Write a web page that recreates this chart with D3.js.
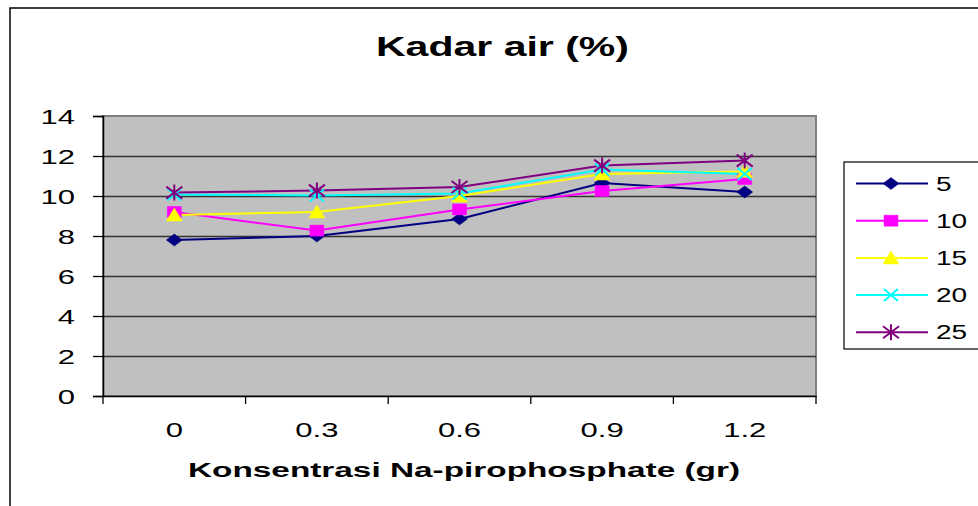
<!DOCTYPE html>
<html>
<head>
<meta charset="utf-8">
<script src="https://cdn.jsdelivr.net/npm/d3@7"></script>
<style>
  body { margin: 0; background: #fff; }
  text { font-family: Arial, "Liberation Sans", sans-serif; }
</style>
</head>
<body>
<div id="graphic"></div>
<script>
// data
const categories = ["0", "0.3", "0.6", "0.9", "1.2"];
const seriesNames = ["5", "10", "15", "20", "25"];
const s5  = [7.8, 8.0, 8.85, 10.65, 10.2];
const s10 = [9.2, 8.27, 9.33, 10.25, 10.85];
const s15 = [9.05, 9.2, 10.0, 11.1, 11.23];
const s20 = [10.08, 10.03, 10.13, 11.33, 11.1];
const s25 = [10.17, 10.27, 10.45, 11.52, 11.77];
const yTicks = [0, 2, 4, 6, 8, 10, 12, 14];

const colors = ["#000080", "#ff00ff", "#ffff00", "#00ffff", "#800080"];
const markers = ["diamond", "square", "triangle", "cross", "star"];
const values = [s5, s10, s15, s20, s25];

const width = 978;
const height = 506;
const plot = { left: 103, right: 816, top: 116, bottom: 396 };

const svg = d3.select("#graphic").append("svg")
  .attr("width", width)
  .attr("height", height)
  .style("display", "block");

// outer chart frame
svg.append("rect")
  .attr("x", 10).attr("y", 8)
  .attr("width", 1000).attr("height", 600)
  .attr("fill", "#fff")
  .attr("stroke", "#000")
  .attr("stroke-width", 1.5);

const x = d3.scaleBand()
  .domain(categories)
  .range([plot.left, plot.right])
  .padding(0);

const y = d3.scaleLinear()
  .domain([0, 14])
  .range([plot.bottom, plot.top]);

// plot background
svg.append("rect")
  .attr("x", plot.left).attr("y", plot.top)
  .attr("width", plot.right - plot.left)
  .attr("height", plot.bottom - plot.top)
  .attr("fill", "#c0c0c0")
  .attr("stroke", "#808080")
  .attr("stroke-width", 2);

// gridlines
const grid = svg.append("g")
  .attr("transform", `translate(${plot.left},0)`)
  .call(d3.axisLeft(y).tickValues(yTicks.slice(1, -1)).tickSize(-(plot.right - plot.left)).tickFormat(""));
grid.select(".domain").remove();
grid.selectAll("line").attr("stroke", "#333").attr("stroke-width", 1.3);

// y axis
const gy = svg.append("g")
  .attr("transform", `translate(${plot.left},0)`)
  .call(d3.axisLeft(y).tickValues(yTicks).tickSize(10).tickPadding(0));
gy.select(".domain").attr("stroke", "#000").attr("stroke-width", 1.5);
gy.selectAll("line").attr("stroke", "#000").attr("stroke-width", 1.3);
gy.selectAll("text")
  .attr("x", -28)
  .attr("dy", "0.35em")
  .attr("font-size", 20)
  .attr("fill", "#000")
  .attr("text-anchor", "end");

// x axis (labels centred in bands, ticks on band edges)
const gx = svg.append("g")
  .attr("transform", `translate(0,${plot.bottom})`)
  .call(d3.axisBottom(x).tickSize(0).tickPadding(0));
gx.select(".domain").attr("stroke", "#000").attr("stroke-width", 1.5);
gx.selectAll("text")
  .attr("y", 41)
  .attr("dy", 0)
  .attr("font-size", 20)
  .attr("fill", "#000");

const edges = categories.map(c => x(c)).concat([x.range()[1]]);
gx.selectAll("line.edge")
  .data(edges)
  .join("line")
  .attr("class", "edge")
  .attr("x1", d => d).attr("x2", d => d)
  .attr("y1", 0).attr("y2", 8)
  .attr("stroke", "#000")
  .attr("stroke-width", 1.3);

// stretch tick labels horizontally like the original
svg.selectAll(".tick text").each(function () {
  const w = this.getComputedTextLength();
  d3.select(this).attr("textLength", w * 1.55).attr("lengthAdjust", "spacingAndGlyphs");
});

// marker shapes
function markerPath(type) {
  switch (type) {
    case "diamond": return "M-8,0L0,-6L8,0L0,6Z";
    case "square": return "M-7,-5.5H7V5.5H-7Z";
    case "triangle": return "M0,-7L8,6H-8Z";
    case "cross": return "M-7,-6L7,6M-7,6L7,-6";
    case "star": return "M-8,-6L8,6M-8,6L8,-6M0,-8V8";
  }
}
function drawMarker(g, type, color) {
  const filled = type !== "cross" && type !== "star";
  g.append("path")
    .attr("d", markerPath(type))
    .attr("fill", filled ? color : "none")
    .attr("stroke", color)
    .attr("stroke-width", filled ? 0.5 : 2);
}

const line = d3.line()
  .x((d, i) => x(categories[i]) + x.bandwidth() / 2)
  .y(d => y(d));

values.forEach((vals, si) => {
  svg.append("path")
    .datum(vals)
    .attr("fill", "none")
    .attr("stroke", colors[si])
    .attr("stroke-width", 2)
    .attr("d", line);
});
values.forEach((vals, si) => {
  vals.forEach((v, i) => {
    const m = svg.append("g")
      .attr("transform", `translate(${x(categories[i]) + x.bandwidth() / 2},${y(v)})`);
    drawMarker(m, markers[si], colors[si]);
  });
});

// title
svg.append("text")
  .attr("x", 376).attr("y", 56)
  .attr("font-size", 28)
  .attr("font-weight", 700)
  .attr("textLength", 253)
  .attr("lengthAdjust", "spacingAndGlyphs")
  .text("Kadar air (%)");

// x axis title
svg.append("text")
  .attr("x", 188).attr("y", 477)
  .attr("font-size", 20)
  .attr("font-weight", 700)
  .attr("textLength", 552)
  .attr("lengthAdjust", "spacingAndGlyphs")
  .text("Konsentrasi Na-pirophosphate (gr)");

// legend
const lg = svg.append("g");
lg.append("rect")
  .attr("x", 844).attr("y", 162)
  .attr("width", 200).attr("height", 187)
  .attr("fill", "#fff")
  .attr("stroke", "#000")
  .attr("stroke-width", 1.2);

seriesNames.forEach((name, si) => {
  const ry = 183.5 + si * 37.2;
  lg.append("line")
    .attr("x1", 856).attr("x2", 928)
    .attr("y1", ry).attr("y2", ry)
    .attr("stroke", colors[si])
    .attr("stroke-width", 2);
  const m = lg.append("g").attr("transform", `translate(891,${ry})`);
  drawMarker(m, markers[si], colors[si]);
  const t = lg.append("text")
    .attr("x", 936).attr("y", ry + 7)
    .attr("font-size", 20)
    .text(name);
  t.attr("textLength", t.node().getComputedTextLength() * 1.4)
    .attr("lengthAdjust", "spacingAndGlyphs");
});
</script>
</body>
</html>
